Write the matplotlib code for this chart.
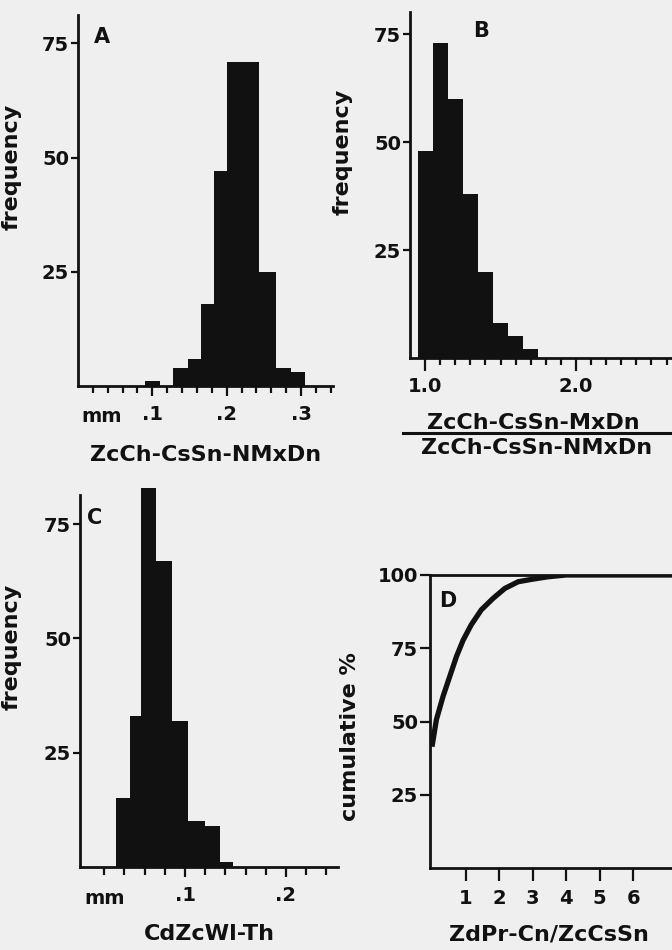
import matplotlib
matplotlib.use("Agg")
import matplotlib.pyplot as plt
from matplotlib.lines import Line2D

# ---------------- data ----------------
# Panel A: ZcCh-CsSn-NMxDn (mm)
a_edges = [0.090, 0.110, 0.128, 0.148, 0.166, 0.183, 0.201, 0.222, 0.243, 0.266, 0.287, 0.306]
a_counts = [1, 0, 4, 6, 18, 47, 71, 71, 25, 4, 3]
a_xticks = [0.1, 0.2, 0.3]
a_xticklabels = [".1", ".2", ".3"]

# Panel B: ratio MxDn / NMxDn
b_edges = [0.95, 1.05, 1.15, 1.25, 1.35, 1.45, 1.55, 1.65, 1.75]
b_counts = [48, 73, 60, 38, 20, 8, 5, 2]
b_xticks = [1.0, 2.0]
b_xticklabels = ["1.0", "2.0"]

# Panel C: CdZcWl-Th (mm)
c_edges = [0.032, 0.0455, 0.056, 0.071, 0.087, 0.1025, 0.120, 0.135, 0.148]
c_counts = [15, 33, 83, 67, 32, 10, 9, 1]
c_xticks = [0.1, 0.2]
c_xticklabels = [".1", ".2"]

# Panel D: cumulative %
d_x = [0.0, 0.13, 0.33, 0.53, 0.73, 0.93, 1.17, 1.47, 1.82, 2.17, 2.57, 2.96, 3.46, 4.0, 7.2]
d_y = [41.4, 50.6, 58.6, 65.4, 72.2, 77.8, 83.0, 88.1, 92.0, 95.4, 97.7, 98.5, 99.4, 100.0, 100.0]
d_xticks = [1, 2, 3, 4, 5, 6]
d_yticks = [25, 50, 75, 100]

freq_yticks = [25, 50, 75]

# ---------------- figure ----------------
W, H = 672, 950
BG = "#efefef"
INK = "#111111"
plt.rcParams["font.family"] = ["DejaVu Sans"]
plt.rcParams["font.weight"] = "bold"
fig = plt.figure(figsize=(W / 100, H / 100), dpi=100, facecolor=BG)


def axes_px(l, t, r, b):
    ax = fig.add_axes([l / W, 1 - b / H, (r - l) / W, (b - t) / H])
    ax.set_facecolor("none")
    return ax


def ftext(x, y, s, size=15, **kw):
    fig.text(x / W, 1 - y / H, s, fontsize=size, color=INK, ha="center", va="center",
             fontweight="bold", **kw)


def style(ax, spines=("left", "bottom")):
    for k, sp in ax.spines.items():
        if k in spines:
            sp.set_linewidth(2.0)
            sp.set_color(INK)
        else:
            sp.set_visible(False)
    ax.tick_params(colors=INK, labelsize=14, width=1.6)
    ax.tick_params(axis="y", which="major", length=5, pad=1.5, direction="out")
    for lab in ax.get_xticklabels() + ax.get_yticklabels():
        lab.set_fontweight("bold")


# ---- Panel A ----
axA = axes_px(78, 15, 333, 386)
axA.stairs(a_counts, a_edges, fill=True, color=INK, linewidth=0)
axA.set_xlim(0, 0.343)
axA.set_ylim(0, 81.2)
axA.set_yticks(freq_yticks)
axA.set_xticks(a_xticks)
axA.set_xticklabels(a_xticklabels)
axA.set_xticks([x / 100 for x in range(2, 35, 2)], minor=True)
style(axA)
axA.tick_params(axis="x", which="major", length=7, pad=7)
axA.tick_params(axis="x", which="minor", length=5, width=1.6, color=INK)
axA.set_ylabel("frequency", fontsize=16, fontweight="bold", color=INK)
axA.yaxis.set_label_coords((22 - 78) / 255, 1 - (167 - 15) / 371)
ftext(102, 417, "mm", size=14)
ftext(206, 455, "ZcCh-CsSn-NMxDn", size=16)
ftext(102, 37, "A", size=15)

# ---- Panel B ----
axB = axes_px(410, 12, 672, 358)
axB.stairs(b_counts, b_edges, fill=True, color=INK, linewidth=0)
axB.set_xlim(0.9, 2.636)
axB.set_ylim(0, 80.1)
axB.set_yticks(freq_yticks)
axB.set_xticks(b_xticks)
axB.set_xticklabels(b_xticklabels)
axB.set_xticks([1.0 + k / 10 for k in range(0, 17)], minor=True)
style(axB)
axB.tick_params(axis="x", which="major", length=9, pad=5)
axB.tick_params(axis="x", which="minor", length=5, width=1.6, color=INK)
axB.set_ylabel("frequency", fontsize=16, fontweight="bold", color=INK)
axB.yaxis.set_label_coords((353 - 410) / 262, 1 - (152 - 12) / 346)
ftext(533, 423, "ZcCh-CsSn-MxDn", size=16)
fig.add_artist(Line2D([403 / W, 670 / W], [1 - 433 / H, 1 - 433 / H], color=INK, linewidth=2.2))
ftext(537, 448, "ZcCh-CsSn-NMxDn", size=16)
ftext(481, 31, "B", size=15)

# ---- Panel C ----
axC = axes_px(80, 495, 338, 867)
axC.stairs(c_counts, c_edges, fill=True, color=INK, linewidth=0, clip_on=False)
axC.set_xlim(-0.004, 0.2515)
axC.set_ylim(0, 81.4)
axC.set_yticks(freq_yticks)
axC.set_xticks(c_xticks)
axC.set_xticklabels(c_xticklabels)
axC.set_xticks([x / 100 for x in range(2, 25, 2)], minor=True)
style(axC)
axC.tick_params(axis="x", which="major", length=7, pad=7)
axC.tick_params(axis="x", which="minor", length=6, width=1.6, color=INK)
axC.set_ylabel("frequency", fontsize=16, fontweight="bold", color=INK)
axC.yaxis.set_label_coords((22 - 80) / 258, 1 - (647 - 495) / 372)
ftext(105, 898, "mm", size=14)
ftext(209, 934, "CdZcWl-Th", size=16)
ftext(95, 518, "C", size=15)

# ---- Panel D ----
axD = axes_px(430, 575, 672, 868)
axD.plot(d_x, d_y, color=INK, linewidth=3.8, solid_capstyle="butt", solid_joinstyle="round")
axD.set_xlim(-0.06, 7.16)
axD.set_ylim(0, 100)
axD.set_yticks(d_yticks)
axD.set_xticks(d_xticks)
style(axD, spines=("left", "bottom", "top"))
axD.tick_params(axis="y", which="major", length=7, pad=1.5)
axD.tick_params(axis="x", which="major", length=9, pad=6)
axD.set_ylabel("cumulative %", fontsize=16, fontweight="bold", color=INK)
axD.yaxis.set_label_coords((360 - 430) / 242, 1 - (737 - 575) / 293)
ftext(549, 934, "ZdPr-Cn/ZcCsSn", size=16)
ftext(448, 601, "D", size=15)

fig.savefig("out.png", dpi=100, facecolor=BG)
